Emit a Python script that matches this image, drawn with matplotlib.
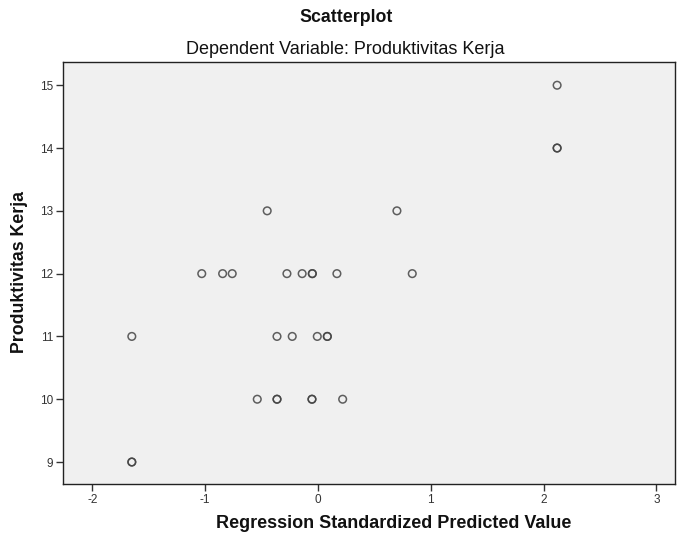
import matplotlib
matplotlib.use("Agg")
import matplotlib.pyplot as plt

plt.rcParams['font.family'] = ['Liberation Sans', 'DejaVu Sans']

# Regression standardized predicted values (x) and dependent variable (y)
pred_x = [2.12,
          2.12, 2.12,
          -0.45, 0.70,
          -1.03, -0.845, -0.76, -0.275, -0.14, -0.05, -0.05, 0.168, 0.836,
          -1.65, -0.363, -0.228, -0.006, 0.083, 0.083,
          -0.538, -0.363, -0.363, -0.053, -0.053, 0.219,
          -1.65, -1.65]
prod_y = [15,
          14, 14,
          13, 13,
          12, 12, 12, 12, 12, 12, 12, 12, 12,
          11, 11, 11, 11, 11, 11,
          10, 10, 10, 10, 10, 10,
          9, 9]

x_ticks = [-2, -1, 0, 1, 2, 3]
y_ticks = [9, 10, 11, 12, 13, 14, 15]

fig = plt.figure(figsize=(6.78, 5.38), dpi=100)
ax = fig.add_axes([63/678, 1-484/538, (675-63)/678, (484-62)/538])
ax.set_facecolor('#F0F0F0')

ax.scatter(pred_x, prod_y, s=30, facecolors='none', edgecolors='#444444',
           linewidths=1.1, alpha=0.85, zorder=3)

ax.set_xlim(-2.26, 3.165)
ax.set_ylim(8.65, 15.37)
ax.set_xticks(x_ticks)
ax.set_yticks(y_ticks)
ax.set_xticklabels([str(v) for v in x_ticks])
ax.set_yticklabels([str(v) for v in y_ticks])
ax.tick_params(direction='out', length=5, width=1, colors='#333333',
               labelsize=8.5, labelcolor='#333333', pad=2)
for s in ax.spines.values():
    s.set_color('#222222')
    s.set_linewidth(1)

fig.text(346/678, 1-17/538, 'Scatterplot', ha='center', va='center',
         fontsize=12.8, fontweight='bold', color='#111111')
fig.text(345/678, 1-49/538, 'Dependent Variable: Produktivitas Kerja',
         ha='center', va='center', fontsize=13, color='#111111')
fig.text(394/678, 1-523/538, 'Regression Standardized Predicted Value',
         ha='center', va='center', fontsize=13, fontweight='bold', color='#111111')
fig.text(20/678, 1-272/538, 'Produktivitas Kerja', ha='center', va='center',
         rotation=90, fontsize=12.8, fontweight='bold', color='#111111')

fig.savefig('out.png', dpi=100)
